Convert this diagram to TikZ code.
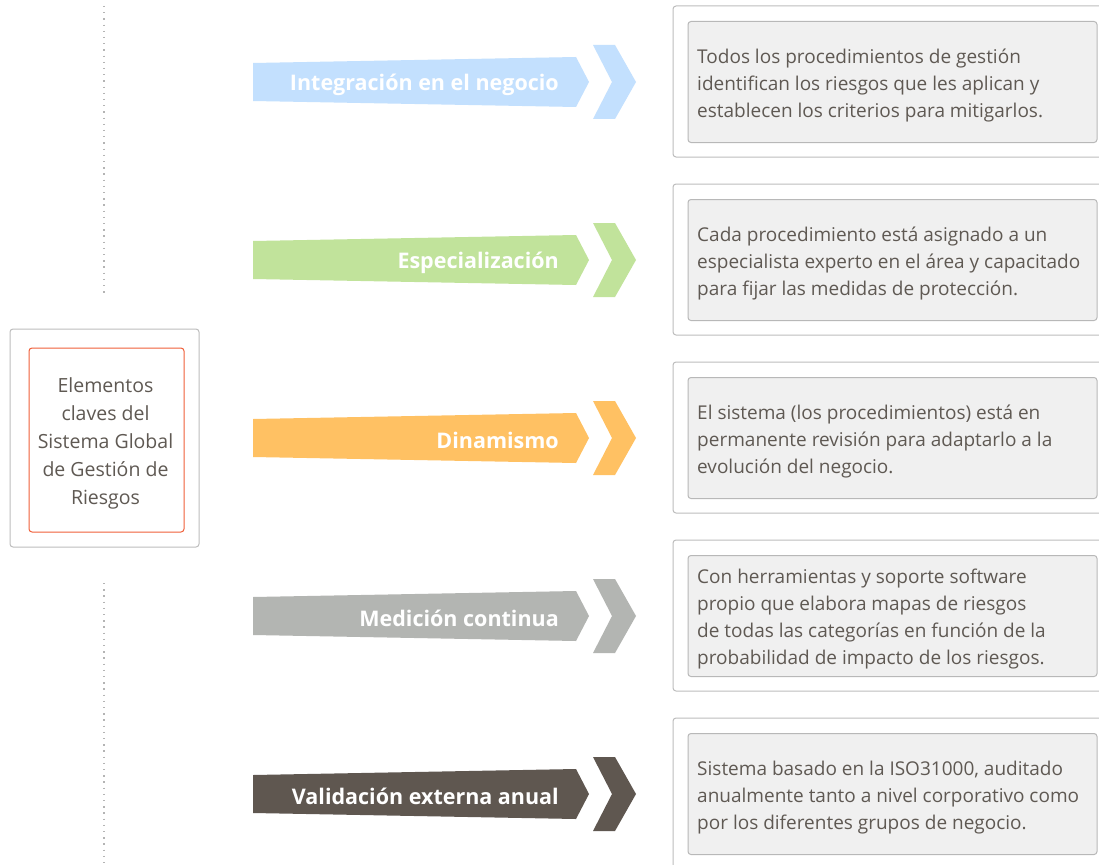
\documentclass[tikz,border=0pt]{standalone}
\usepackage{fontspec}
\setmainfont{Open Sans}
\definecolor{txtgray}{HTML}{5F5953}
\definecolor{outergray}{HTML}{BDBDBD}
\definecolor{innerfill}{HTML}{F0F0F0}
\definecolor{innergray}{HTML}{B8B8B8}
\definecolor{redline}{HTML}{F0603A}
\definecolor{dotgray}{HTML}{B4B4B4}
\definecolor{cblue}{HTML}{C3E0FE}
\definecolor{cgreen}{HTML}{C1E39B}
\definecolor{corange}{HTML}{FFC163}
\definecolor{cgray}{HTML}{B3B5B2}
\definecolor{cbrown}{HTML}{5F5750}
\newcommand\mkrow[6]{%
  \fill[#3] (253,#2-19) -- (576,#2-25) -- (589,#2) -- (576,#2+25) -- (253,#2+19) -- cycle;
  \fill[#3] (593,#2-37) -- (615,#2-37) -- (636,#2) -- (615,#2+37) -- (593,#2+37) -- (612,#2) -- cycle;
  \node[arrowtxt, text=#4] (lab#1) at (559,#2+2.5) {#5};
  \draw[outerbox] (673,#2-76) rectangle (1115,#2+75);
  \node[innerbox] (box#1) at (892.5,#2) {};
  \node[bodytxt] (txt#1) at (697,#2+3.5) {#6};
}
\begin{document}
\begin{tikzpicture}[x=1pt,y=-1pt,
  arrowtxt/.style={anchor=east, inner sep=0pt, font=\fontsize{21.5}{24}\selectfont\bfseries},
  outerbox/.style={draw=outergray, line width=1pt, rounded corners=3pt},
  innerbox/.style={draw=innergray, fill=innerfill, line width=1pt, rounded corners=3pt,
    minimum width=409pt, minimum height=121pt, inner sep=0pt},
  bodytxt/.style={anchor=west, inner sep=0pt, align=left, text=txtgray,
    font=\fontsize{19}{27}\selectfont},
  dotline/.style={draw=dotgray, line width=1.3pt, dash pattern=on 1.3pt off 4.9pt}]
\useasboundingbox (0,0) rectangle (1099,864);
\fill[white] (0,0) rectangle (1099,864);
% dotted vertical line
\coordinate (d1) at (104,6);
\coordinate (d2) at (104,293);
\coordinate (d3) at (104,583);
\coordinate (d4) at (104,864);
\draw[dotline] (d1) -- (d2);
\draw[dotline] (d3) -- (d4);
% central box
\draw[outergray, line width=1pt, rounded corners=3pt] (10,329) rectangle (199,547);
\node[draw=redline, line width=1pt, rounded corners=3pt, minimum width=155pt, minimum height=184pt]
  (center) at (106.5,440) {};
\node[align=center, inner sep=0pt, text=txtgray, font=\fontsize{19.5}{28}\selectfont]
  (centertxt) at (105.5,443) {Elementos\\claves del\\Sistema Global\\de Gestión de\\Riesgos};
\mkrow{1}{82}{cblue}{white}{Integración en el negocio}
  {Todos los procedimientos de gestión\\identifican los riesgos que les aplican y\\establecen los criterios para mitigarlos.}
\mkrow{2}{260}{cgreen}{white}{Especialización}
  {Cada procedimiento está asignado a un\\especialista experto en el área y capacitado\\para fijar las medidas de protección.}
\mkrow{3}{438}{corange}{white}{Dinamismo}
  {El sistema (los procedimientos) está en\\permanente revisión para adaptarlo a la\\evolución del negocio.}
\mkrow{4}{616}{cgray}{white}{Medición continua}
  {Con herramientas y soporte software\\propio que elabora mapas de riesgos\\de todas las categorías en función de la\\probabilidad de impacto de los riesgos.}
\mkrow{5}{794}{cbrown}{white}{Validación externa anual}
  {Sistema basado en la ISO31000, auditado\\anualmente tanto a nivel corporativo como\\por los diferentes grupos de negocio.}
\end{tikzpicture}
\end{document}
